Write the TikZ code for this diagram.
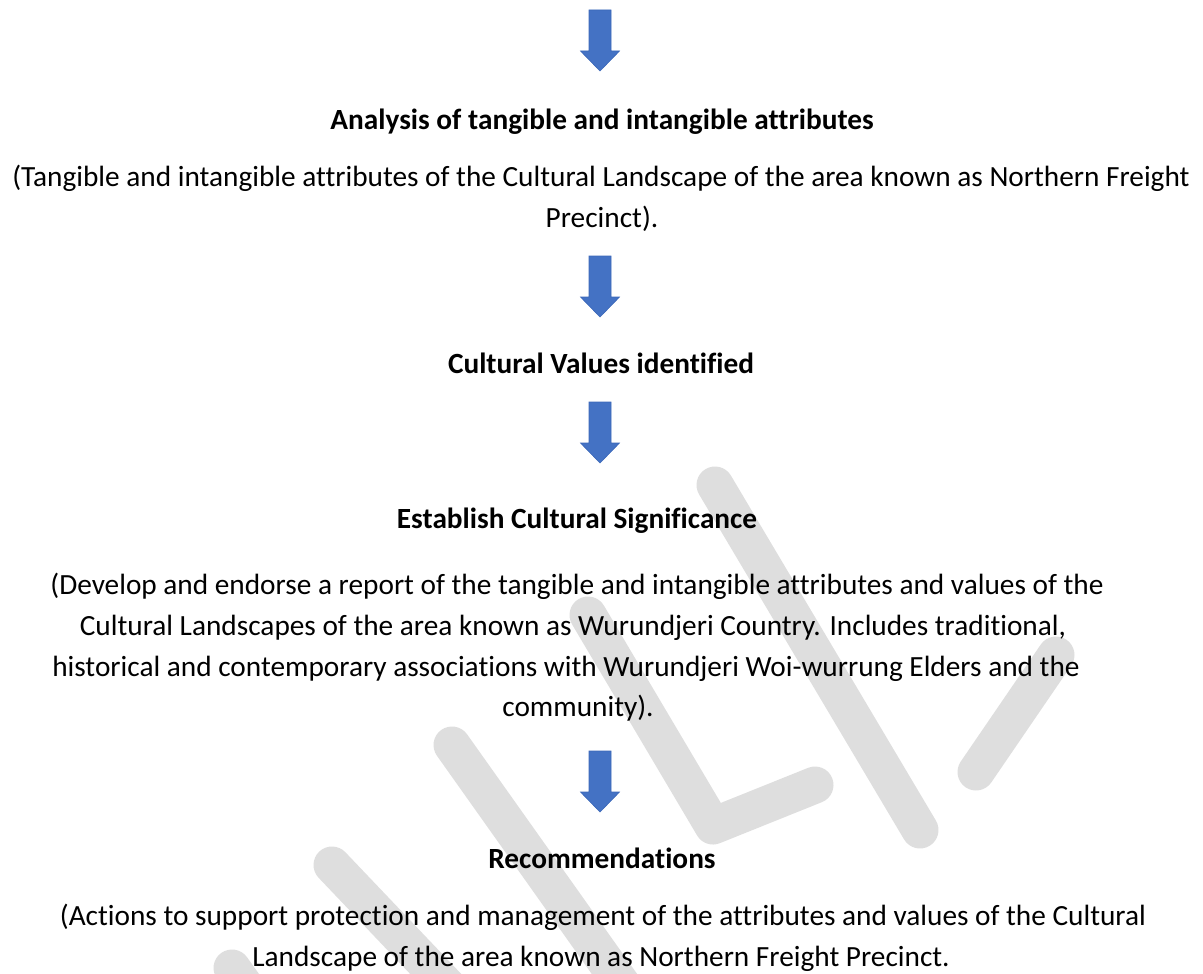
\documentclass[tikz,border=0pt]{standalone}
\usepackage{fontspec}
\setmainfont{Carlito}[Ligatures={NoCommon}]
\definecolor{arrowblue}{HTML}{4472C4}
\definecolor{arrowedge}{HTML}{3B67B8}
\definecolor{wmgrey}{HTML}{DEDEDE}
\newcommand{\bluearrow}[2]{%
  \fill[arrowblue, draw=arrowedge, line width=0.6pt]
    (#1-11,#2) -- (#1+11,#2) -- (#1+11,#2+41) -- (#1+19.5,#2+41) --
    (#1,#2+61) -- (#1-19.5,#2+41) -- (#1-11,#2+41) -- cycle;}
\begin{document}
\begin{tikzpicture}[x=1pt,y=-1pt,
  body/.style={anchor=base,inner sep=0pt,font=\fontsize{29.3}{35}\selectfont},
  head/.style={anchor=base,inner sep=0pt,font=\fontsize{29.3}{35}\selectfont\bfseries},
  wmband/.style={wmgrey,line width=37pt,line cap=round,line join=round},
]
\useasboundingbox (0,0) rectangle (1203,974);
% watermark
\draw[wmband] (715,485) -- (920,830);
\draw[wmband] (1056,655) -- (976,772);
\draw[wmband] (588,615) -- (713,826) -- (815,785);
\draw[wmband] (452,745) -- (640,1010);
\draw[wmband] (332,865) -- (470,1010);
\draw[wmband] (232,968) -- (262,1010);
% arrows
\bluearrow{600}{10}
\bluearrow{600}{256}
\bluearrow{600}{402}
\bluearrow{600}{751}
% text
\node[head] (t1) at (602,129) {Analysis of tangible and intangible attributes};
\node[body] (t2) at (601,186) {(Tangible and intangible attributes of the Cultural Landscape of the area known as Northern Freight};
\node[body] (t3) at (602,227) {Precinct).};
\node[head] (t4) at (601,373) {Cultural Values identified};
\node[head] (t5) at (577,528) {Establish Cultural Significance};
\node[body] (t6) at (577,594) {(Develop and endorse a report of the tangible and intangible attributes and values of the};
\node[body] (t7) at (573,635) {Cultural Landscapes of the area known as Wurundjeri Country. Includes traditional,};
\node[body] (t8) at (566,676) {historical and contemporary associations with Wurundjeri Woi-wurrung Elders and the};
\node[body] (t9) at (578,716) {community).};
\node[head] (t10) at (602,868) {Recommendations};
\node[body] (t11) at (603,925) {(Actions to support protection and management of the attributes and values of the Cultural};
\node[body] (t12) at (601,966) {Landscape of the area known as Northern Freight Precinct.};
\end{tikzpicture}
\end{document}
